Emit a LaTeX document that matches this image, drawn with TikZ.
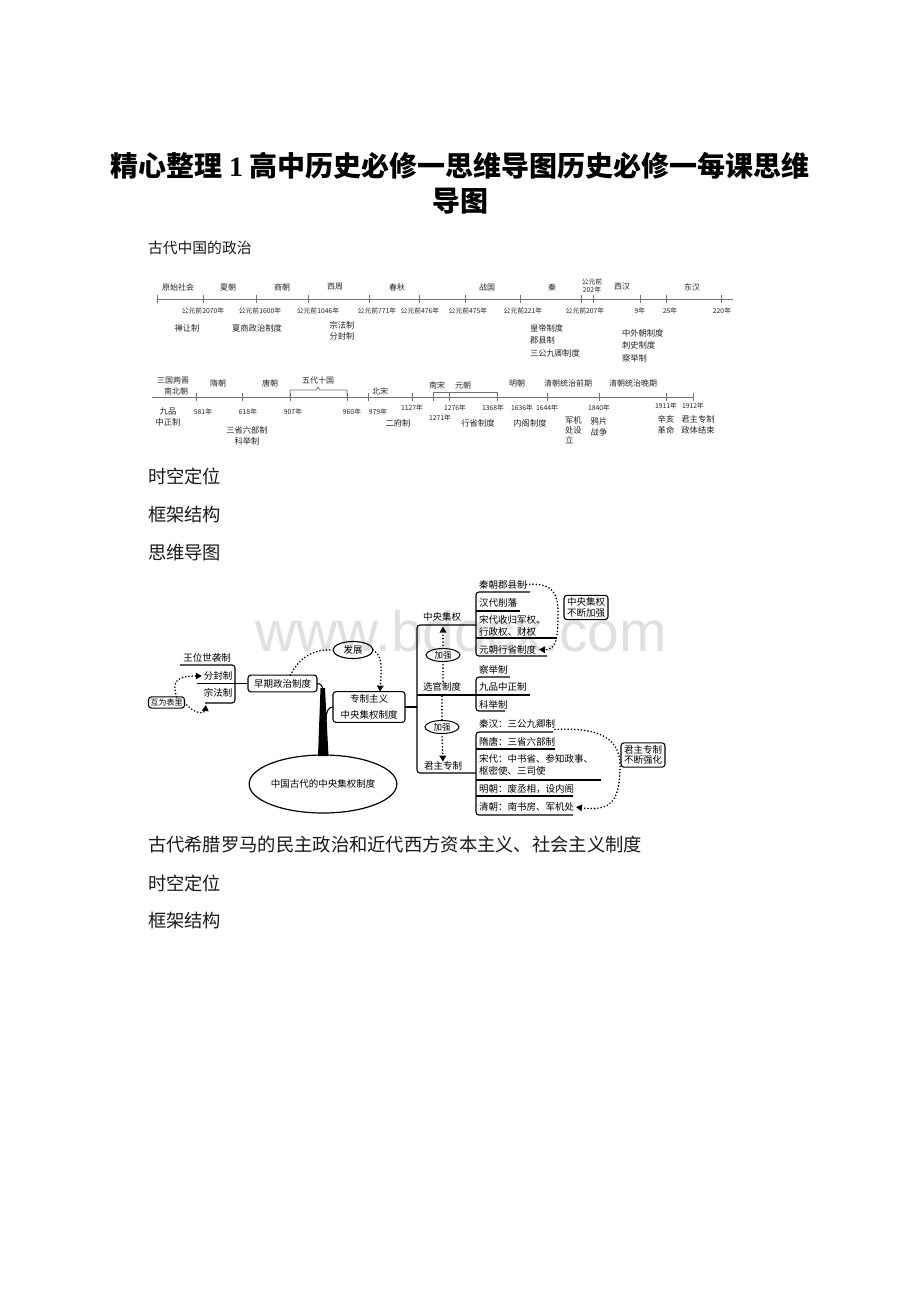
\documentclass[tikz,border=0pt]{standalone}
\usepackage{fontspec}
\setmainfont{Noto Sans CJK SC}
\newfontfamily\serifnum{Liberation Serif}
\newfontfamily\wmfont{Liberation Sans}
\usetikzlibrary{arrows.meta,shapes.geometric}
\begin{document}
\begin{tikzpicture}[x=1pt,y=-1pt,
  every node/.style={inner sep=0pt, outer sep=0pt},
  body/.style={anchor=west, font=\fontsize{18.3}{20}\selectfont, text=black!90},
  tlper/.style={font=\fontsize{8}{9}\selectfont, text=black!85},
  tlyr/.style={font=\fontsize{6.8}{8}\selectfont, text=black!85, align=center},
  tlins/.style={font=\fontsize{8.3}{10.5}\selectfont, text=black!85, align=center},
  tlinsl/.style={font=\fontsize{8.3}{12.5}\selectfont, text=black!85, align=left, anchor=north west},
  tline/.style={draw=black!55, line width=0.7pt},
  tick/.style={draw=black!55, line width=0.7pt},
  mm/.style={font=\fontsize{9.5}{11}\selectfont},
  mmw/.style={font=\fontsize{9.5}{11.5}\selectfont, anchor=west, align=left},
  mmline/.style={line width=1.1pt, rounded corners=3pt},
  mmbox/.style={draw, line width=1.1pt, rounded corners=3pt, align=center},
  dots/.style={line width=1.8pt, dash pattern=on 0pt off 3.3pt, line cap=round},
  arrowtip/.style={-{Triangle[length=6pt,width=6.5pt]}},
  oval/.style={draw, ellipse, line width=1.1pt, inner sep=0pt},
]
\useasboundingbox (0,0) rectangle (920,1302);
\fill[white] (0,0) rectangle (920,1302);

% title
\node[font=\fontsize{28}{30}\selectfont\bfseries] (t1) at (460,166) {精心整理 {\serifnum\bfseries 1} 高中历史必修一思维导图历史必修一每课思维};
\node[font=\fontsize{28}{30}\selectfont\bfseries] (t2) at (460,201) {导图};

% body text
\node[body, font=\fontsize{14.8}{17}\selectfont] (b1) at (148,248) {古代中国的政治};
\node[body] (b2) at (148,477) {时空定位};
\node[body] (b3) at (148,515) {框架结构};
\node[body] (b4) at (148,553) {思维导图};
\node[body] (b5) at (148,845) {古代希腊罗马的民主政治和近代西方资本主义、社会主义制度};
\node[body] (b6) at (148,883) {时空定位};
\node[body] (b7) at (148,921) {框架结构};

% ---------------- watermark
\node[font=\wmfont\fontsize{57}{60}\selectfont, text=black!12, anchor=base] (wm) at (461,651) {www.bdocx.com};

% ---------------- timeline 1
\draw[tline] (157,299) -- (733,299);
\foreach \x in {157,203,256,308,369,419,465,520,581,593,640,666,721}
  \draw[tick] (\x,295) -- (\x,303);
\node[tlper] (p1) at (178,287) {原始社会};
\node[tlper] (p2) at (228,287) {夏朝};
\node[tlper] (p3) at (282,287) {商朝};
\node[tlper] (p4) at (335,287) {西周};
\node[tlper] (p5) at (397,287) {春秋};
\node[tlper] (p6) at (487,287) {战国};
\node[tlper] (p7) at (552,287) {秦};
\node[tlyr] (p8) at (592,286) {公元前\\202年};
\node[tlper] (p9) at (622,287) {西汉};
\node[tlper] (p10) at (692,287) {东汉};
\node[tlyr] (y1) at (203,311) {公元前2070年};
\node[tlyr] (y2) at (260,311) {公元前1600年};
\node[tlyr] (y3) at (318,311) {公元前1046年};
\node[tlyr] (y4) at (377,311) {公元前771年};
\node[tlyr] (y5) at (420,311) {公元前476年};
\node[tlyr] (y6) at (468,311) {公元前475年};
\node[tlyr] (y7) at (523,311) {公元前221年};
\node[tlyr] (y8) at (585,311) {公元前207年};
\node[tlyr] (y9) at (640,311) {9年};
\node[tlyr] (y10) at (670,311) {25年};
\node[tlyr] (y11) at (722,311) {220年};
\node[tlins] (i1) at (187,328) {禅让制};
\node[tlins] (i2) at (257,328) {夏商政治制度};
\node[tlins] (i3) at (342,331) {宗法制\\分封制};
\node[tlinsl] (i4) at (530,324) {皇帝制度\\郡县制\\三公九卿制度};
\node[tlinsl] (i5) at (622,329) {中外朝制度\\刺史制度\\察举制};

% ---------------- timeline 2
\draw[tline] (152,397) -- (693,397);
\foreach \x in {196,242,290,347,368,412,433,449,497,547,599,666,693}
  \draw[tick] (\x,393) -- (\x,401);
\draw[tick] (290,397) -- (290,390) -- (316,390) -- (318,387) -- (320,390) -- (347,390) -- (347,397);
\draw[tick] (433,397) -- (433,392) -- (497,392) -- (497,397);
\node[tlper, align=center, font=\fontsize{8}{10.5}\selectfont] (q1) at (173,386) {三国两晋\\\hspace*{6pt}南北朝};
\node[tlper] (q2) at (218,383) {隋朝};
\node[tlper] (q3) at (270,383) {唐朝};
\node[tlper] (q4) at (318,380) {五代十国};
\node[tlper] (q5) at (380,391) {北宋};
\node[tlper] (q6) at (437,385) {南宋};
\node[tlper] (q7) at (463,385) {元朝};
\node[tlper] (q8) at (517,383) {明朝};
\node[tlper] (q9) at (568,383) {清朝统治前期};
\node[tlper] (q10) at (633,383) {清朝统治晚期};
\node[tlins] (j1) at (168,417) {九品\\中正制};
\node[tlyr] (z1) at (203,412) {581年};
\node[tlyr] (z2) at (248,412) {618年};
\node[tlyr] (z3) at (293,412) {907年};
\node[tlyr] (z4) at (352,412) {960年};
\node[tlyr] (z5) at (378,412) {979年};
\node[tlyr] (z6) at (412,408) {1127年};
\node[tlyr] (z7) at (440,418) {1271年};
\node[tlyr] (z8) at (455,408) {1276年};
\node[tlyr] (z9) at (493,408) {1368年};
\node[tlyr] (z10) at (522,408) {1636年};
\node[tlyr] (z11) at (547,408) {1644年};
\node[tlyr] (z12) at (599,408) {1840年};
\node[tlyr] (z13) at (666,406) {1911年};
\node[tlyr] (z14) at (693,406) {1912年};
\node[tlins] (j2) at (247,436) {三省六部制\\科举制};
\node[tlins] (j3) at (398,423) {二府制};
\node[tlins] (j4) at (478,423) {行省制度};
\node[tlins] (j5) at (530,423) {内阁制度};
\node[tlinsl, font=\fontsize{8.3}{10}\selectfont] (j6) at (565,417) {军机\\处设\\立};
\node[tlins] (j7) at (599,427) {鸦片\\战争};
\node[tlins] (j8) at (666,425) {辛亥\\革命};
\node[tlins] (j9) at (698,425) {君主专制\\政体结束};

% ---------------- mind map
% left group
\node[mm] (wwsx) at (207,658) {王位世袭制};
\node[mm] (ffz) at (218,676) {分封制};
\node[mm] (zfz) at (218,693) {宗法制};
\draw[mmline] (180,665) -- (235,665) -- (235,703) -- (205,703);
\node[mmbox, inner xsep=6pt, inner ysep=4pt, font=\fontsize{9.5}{11}\selectfont] (zq) at (282.5,683.5) {早期政治制度};
\draw[line width=1.1pt] (197,683.5) -- (zq.west);
\node[mmbox, inner xsep=2pt, inner ysep=2pt, font=\fontsize{8}{9}\selectfont] (hwbl) at (166.5,702.5) {互为表里};
\draw[dots, arrowtip] ([xshift=10pt]hwbl.north) .. controls (173,684) and (173,676) .. ([xshift=-2pt]ffz.west);
\draw[dots, arrowtip] (hwbl.east) .. controls (196,716) and (205,713) .. (206,705);

% development
\node[oval, mm, minimum width=40pt, minimum height=17pt] (fz) at (353,650) {发展};
\draw[dots] ([xshift=8pt]zq.north) .. controls (300,656) and (315,649) .. (fz.west);
\node[mmbox, inner xsep=7.5pt, inner ysep=3pt, font=\fontsize{9.5}{16}\selectfont] (zzzy) at (369,707) {专制主义\\中央集权制度};
\draw[dots, arrowtip] (fz.east) .. controls (384,656) and (381,672) .. ([xshift=11pt]zzzy.north);

% trunk
\node[oval, minimum width=136pt, minimum height=58pt, line width=1.2pt, font=\fontsize{9.5}{11}\selectfont] (gd) at (323,784) {中国古代的中央集权制度};
\fill (320.5,688) -- (325,688) -- (328.5,756) -- (318,756) -- cycle;
\draw[line width=1.1pt] (zq.east) .. controls (321,683.5) and (323,686) .. (323,692);
\draw[line width=1.1pt] (zzzy.west) .. controls (328,707) and (326,712) .. (326,720);

% main bracket
\draw[line width=1.1pt] (zzzy.east) -- (417,707);
\draw[mmline] (476,625) -- (417,625) -- (417,773) -- (476,773);
\draw[line width=1.1pt] (417,695) -- (530,695);
\node[mm] (zyjq) at (442,617) {中央集权};
\node[mm] (xgzd) at (442,687) {选官制度};
\node[mm] (jzzz) at (443,766) {君主专制};
\node[oval, line width=1pt, font=\fontsize{8.5}{9}\selectfont, minimum width=34pt, minimum height=13pt] (jq1) at (443,655) {加强};
\node[oval, line width=1pt, font=\fontsize{8.5}{9}\selectfont, minimum width=34pt, minimum height=13pt] (jq2) at (442,727) {加强};
\draw[dots, arrowtip] (jq1.north) -- ++(0,-22);
\draw[dots] (jq1.south) -- ++(0,21);
\draw[dots] ([yshift=-5pt]xgzd.south) -- (jq2.north);
\draw[dots, arrowtip] (jq2.south) -- (jzzz.north);

% central power sub-bracket
\draw[mmline] (530,592) -- (476,592) -- (476,656) -- (547,656);
\draw[line width=1.1pt] (476,611) -- (520,611);
\draw[line width=1.1pt] (476,638) -- (557,638);
\node[mmw] (qcjx) at (479,584.5) {秦朝郡县制};
\node[mmw] (hdxf) at (479,603) {汉代削藩};
\node[mmw] (sdsg) at (479,626) {宋代收归军权、\\行政权、财权};
\node[mmw] (ycxs) at (479,649.5) {元朝行省制度};
\node[mmbox, inner xsep=3pt, inner ysep=2.5pt, font=\fontsize{9.5}{10.5}\selectfont] (jqbox) at (586,607.5) {中央集权\\不断加强};
\draw[dots, arrowtip] (qcjx.east) .. controls (553,582) and (558,594) .. (558,612) .. controls (558,640) and (556,650) .. ([xshift=3pt]ycxs.east);

% official selection sub-bracket
\draw[mmline] (510,677) -- (476,677) -- (476,711) -- (505,711);
\node[mmw] (cjz) at (479,670) {察举制};
\node[mmw] (jpzz) at (479,687) {九品中正制};
\node[mmw] (kjz) at (479,704.5) {科举制};

% autocracy sub-bracket
\draw[mmline] (553,732) -- (476,732) -- (476,815) -- (573,815);
\draw[line width=1.1pt] (476,749) -- (555,749);
\draw[line width=1.1pt] (476,780) -- (601,780);
\draw[line width=1.1pt] (476,796) -- (573,796);
\node[mmw] (qhsg) at (479,723.5) {秦汉：三公九卿制};
\node[mmw] (stsl) at (479,742) {隋唐：三省六部制};
\node[mmw] (sdzs) at (479,765) {宋代：中书省、参知政事、\\枢密使、三司使};
\node[mmw] (mcfc) at (479,789) {明朝：废丞相，设内阁};
\node[mmw] (qcns) at (479,807) {清朝：南书房、军机处};
\node[mmbox, inner xsep=3pt, inner ysep=2.5pt, font=\fontsize{9.5}{10.5}\selectfont] (jzbox) at (643,755) {君主专制\\不断强化};
\draw[dots, arrowtip] ([yshift=-6pt]qhsg.east) .. controls (598,727) and (620,738) .. (620,765) .. controls (620,800) and (612,812) .. ([xshift=2pt]qcns.east);
\end{tikzpicture}
\end{document}
